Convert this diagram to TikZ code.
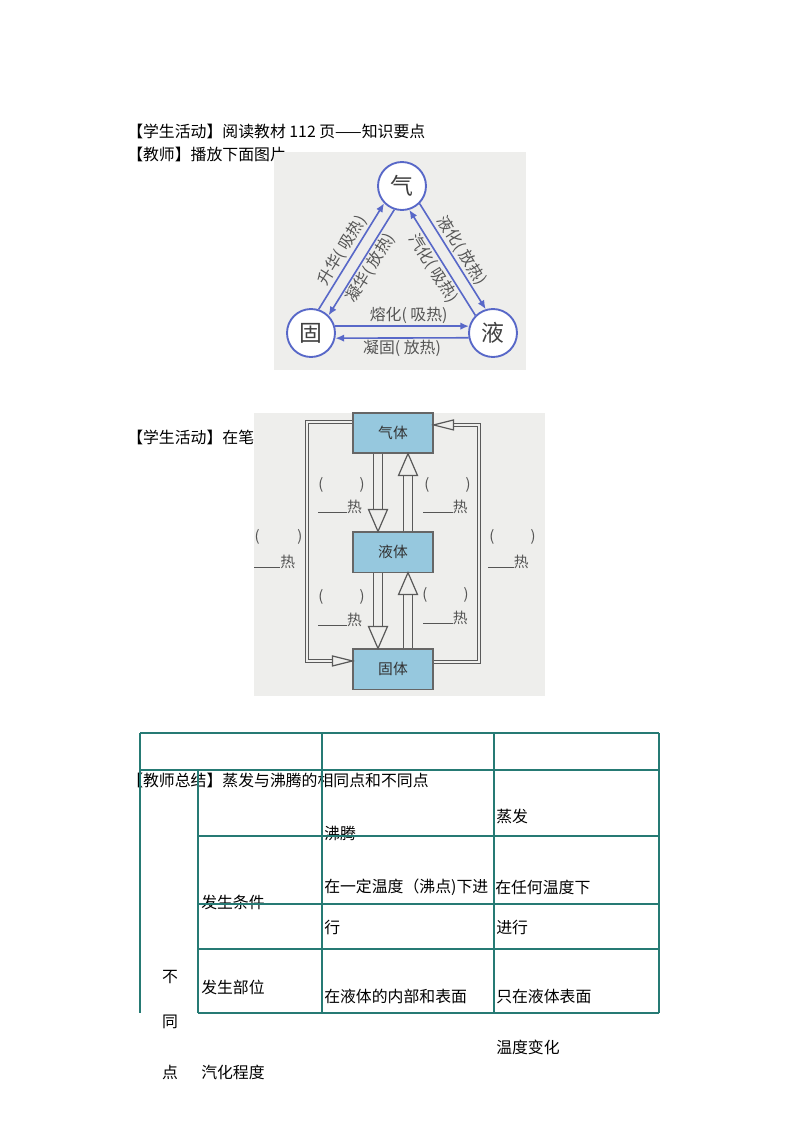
\documentclass[tikz,border=0pt]{standalone}
\usepackage{fontspec}
\setmainfont{Noto Sans CJK SC}
\usetikzlibrary{arrows.meta, positioning}

\definecolor{phaseblue}{RGB}{88,104,200}
\definecolor{photobg}{RGB}{238,238,236}
\definecolor{boxblue}{RGB}{150,200,222}
\definecolor{tableteal}{RGB}{38,122,116}
\definecolor{labelgray}{RGB}{85,85,85}

\begin{document}
\begin{tikzpicture}[
    x=0.744pt, y=-0.744pt,
    bodytext/.style={anchor=west, inner sep=0pt, font=\fontsize{11.8}{14}\selectfont},
    phase/.style={circle, draw=phaseblue, line width=1.4pt, fill=white, minimum size=35.7pt, inner sep=0pt, font=\fontsize{17}{17}\selectfont, text=black!75},
    change/.style={draw=phaseblue, line width=1.2pt, -{Latex[length=6.5pt, width=5.5pt]}},
    changelabel/.style={sloped, inner sep=1.2pt, font=\fontsize{11.8}{12}\selectfont, text=labelgray},
    statebox/.style={draw=black!60, fill=boxblue, line width=0.8pt, minimum width=59.5pt, minimum height=29.8pt, font=\fontsize{11}{11}\selectfont, text=black!80},
    shaft/.style={draw=black!65, line width=0.9pt, double=photobg, double distance=5.6pt, shorten >=16pt},
    hollowtip/.style={draw=black!65, line width=0.9pt, fill=photobg},
    loopline/.style={draw=black!65, line width=0.8pt, double=photobg, double distance=1.4pt, shorten >=14pt},
    blank/.style={inner sep=0pt, font=\fontsize{11}{11}\selectfont, text=labelgray},
    grid/.style={draw=tableteal, line width=1.5pt},
    cell/.style={anchor=west, inner sep=0pt, font=\fontsize{11.8}{14}\selectfont}
]

\fill[white] (0,0) rectangle (800,1132);
\useasboundingbox (0,0) rectangle (800,1132);

% Add lesson text
\node[bodytext] (read) at (127,131) {【学生活动】阅读教材 112 页——知识要点};
\node[bodytext] (play) at (127,154) {【教师】播放下面图片};
\node[bodytext] (note) at (127,437) {【学生活动】在笔记};
\node[bodytext] (summary) at (127,780) {【教师总结】蒸发与沸腾的相同点和不同点};

% Add first picture: three states in a triangle
\fill[photobg] (274,152) rectangle (526,370);
\node[phase] (qi) at (402,186) {气};
\node[phase] (gu) at (311,333) {固};
\node[phase] (ye) at (493,333) {液};

\draw[change] (gu.72) -- node[changelabel, above] {升华( 吸热)} (qi.224);
\draw[change] (qi.252) -- node[changelabel, below] {凝华( 放热)} (gu.45);
\draw[change] (ye.135.5) -- node[changelabel, below] {汽化( 吸热)} (qi.287.7);
\draw[change] (qi.315.5) -- node[changelabel, above] {液化( 放热)} (ye.107.7);
\draw[change] (gu.16) -- node[changelabel, above, pos=0.55] {熔化( 吸热)} (ye.164);
\draw[change] (ye.191.5) -- node[changelabel, below] {凝固( 放热)} (gu.348.5);

% Add second picture: boxes with hollow arrows
\fill[photobg] (254,413) rectangle (545,696);
\node[statebox] (qiti) at (393,433) {气体};
\node[statebox] (yeti) at (393,552) {液体};
\node[statebox] (guti) at (393,669) {固体};

\coordinate (downcol) at (378,0);
\coordinate (upcol) at (408,0);
\draw[shaft] (downcol |- qiti.south) -- (downcol |- yeti.north);
\draw[hollowtip] (downcol |- yeti.north) -- ++(-9.5,-22) -- ++(19,0) -- cycle;
\draw[shaft] (upcol |- yeti.north) -- (upcol |- qiti.south);
\draw[hollowtip] (upcol |- qiti.south) -- ++(-9.5,22) -- ++(19,0) -- cycle;
\draw[shaft] (downcol |- yeti.south) -- (downcol |- guti.north);
\draw[hollowtip] (downcol |- guti.north) -- ++(-9.5,-22) -- ++(19,0) -- cycle;
\draw[shaft] (upcol |- guti.north) -- (upcol |- yeti.south);
\draw[hollowtip] (upcol |- yeti.south) -- ++(-9.5,22) -- ++(19,0) -- cycle;

% outer loops
\coordinate (leftrun) at (307,0);
\coordinate (rightrun) at (479,0);
\coordinate (lout) at ([yshift=8.2pt]qiti.west);
\coordinate (lin) at ([yshift=6pt]guti.west);
\coordinate (rout) at ([yshift=5.2pt]guti.east);
\coordinate (rin) at ([yshift=6pt]qiti.east);
\draw[loopline] (lout) -| (leftrun |- lin) -- (lin);
\draw[hollowtip] (lin) -- ++(-20,-5) -- ++(0,10) -- cycle;
\draw[loopline] (rout) -| (rightrun |- rin) -- (rin);
\draw[hollowtip] (rin) -- ++(20,-5) -- ++(0,10) -- cycle;

% blanks to fill in
\node[blank] (ulpar) at (341.5,485) {(\hspace{27pt})};
\node[blank, anchor=west] (ulheat) at (318,507) {\rule{21.5pt}{0.5pt}热};
\node[blank] (urpar) at (447.5,485) {(\hspace{27pt})};
\node[blank, anchor=west] (urheat) at (423,507) {\rule{22pt}{0.5pt}热};
\node[blank] (lopar) at (278.5,537) {(\hspace{28pt})};
\node[blank, anchor=west] (loheat) at (254,562) {\rule{19.5pt}{0.5pt}热};
\node[blank] (ropar) at (512.5,537) {(\hspace{27pt})};
\node[blank, anchor=west] (roheat) at (488,562) {\rule{19pt}{0.5pt}热};
\node[blank] (llpar) at (341.5,597) {(\hspace{27pt})};
\node[blank, anchor=west] (llheat) at (318,620) {\rule{21.5pt}{0.5pt}热};
\node[blank] (lrpar) at (445.5,595) {(\hspace{27pt})};
\node[blank, anchor=west] (lrheat) at (423,618) {\rule{22pt}{0.5pt}热};

% Add table cells
\node[cell] (boil) at (324,833) {沸腾};
\node[cell] (evap) at (496,816) {蒸发};
\node[cell] (cond) at (201,902) {发生条件};
\node[cell] (boilcond) at (324,887) {在一定温度（沸点)下进};
\node[cell] (evapcond) at (495,887) {在任何温度下};
\node[cell] (boilcondb) at (324,927) {行};
\node[cell] (evapcondb) at (496,927) {进行};
\node[cell] (place) at (201,987) {发生部位};
\node[cell] (boilplace) at (324,996) {在液体的内部和表面};
\node[cell] (evapplace) at (496,996) {只在液体表面};
\node[cell] (tempchange) at (496,1047) {温度变化};
\node[cell] (degree) at (201,1072) {汽化程度};
\node[cell, anchor=center] (bu) at (170,977) {不};
\node[cell, anchor=center] (tong) at (170,1022) {同};
\node[cell, anchor=center] (dian) at (170,1072) {点};

% table rules
\draw[grid] (140,733) -- (659,733);
\draw[grid] (140,770) -- (659,770);
\foreach \y in {836,904,948.7,1013}
    \draw[grid] (198,\y) -- (659,\y);
\draw[grid] (198,770) -- (198,1013);
\foreach \x in {140,322,494,659}
    \draw[grid] (\x,733) -- (\x,1013);

\end{tikzpicture}
\end{document}
